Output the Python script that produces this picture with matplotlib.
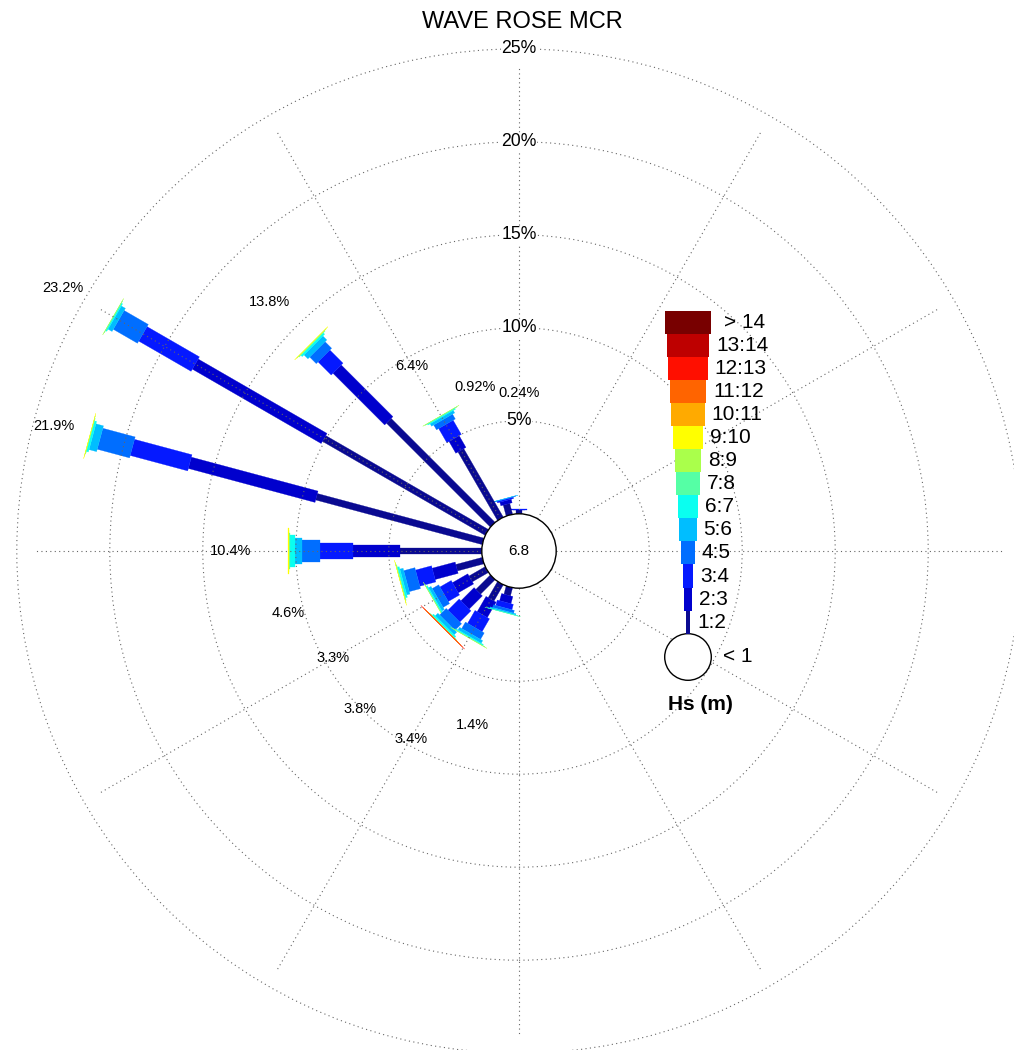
import numpy as np
import matplotlib
matplotlib.use("Agg")
import matplotlib.pyplot as plt
from matplotlib.patches import Polygon, Circle

plt.rcParams['font.family'] = ['Liberation Sans', 'DejaVu Sans']

# ---------------- data ----------------
title = "WAVE ROSE MCR"
hs_labels = ["1:2", "2:3", "3:4", "4:5", "5:6", "6:7", "7:8", "8:9",
             "9:10", "10:11", "11:12", "12:13", "13:14", "> 14"]
calm_label = "< 1"
calm_pct = 6.8           # Hs < 1 m, drawn as the central circle

# direction (deg, clockwise from north) and frequency (%) per Hs class
directions = [0, 345, 330, 315, 300, 285, 270, 255, 240, 225, 210, 195]
freq_000 = [0.18, 0.05, 0.01]
freq_345 = [0.60, 0.20, 0.08, 0.03, 0.01]
freq_330 = [4.25, 0.73, 0.88, 0.30, 0.15, 0.06, 0.02, 0.01]
freq_315 = [7.90, 3.93, 1.00, 0.50, 0.30, 0.10, 0.04, 0.02, 0.01]
freq_300 = [10.10, 8.00, 3.25, 1.50, 0.25, 0.07, 0.02, 0.01]
freq_285 = [9.27, 7.05, 3.20, 1.80, 0.42, 0.11, 0.03, 0.01, 0.01]
freq_270 = [4.40, 2.53, 1.77, 0.98, 0.36, 0.25, 0.07, 0.03, 0.01]
freq_255 = [1.47, 1.28, 0.89, 0.62, 0.18, 0.10, 0.04, 0.015, 0.005]
freq_240 = [1.00, 0.95, 0.70, 0.40, 0.15, 0.07, 0.02, 0.01]
freq_225 = [1.10, 1.00, 0.85, 0.50, 0.20, 0.09, 0.03, 0.015, 0.008, 0.004, 0.002, 0.001]
freq_210 = [1.00, 0.95, 0.80, 0.40, 0.16, 0.06, 0.02, 0.01]
freq_195 = [0.45, 0.40, 0.30, 0.15, 0.07, 0.02, 0.01]
frequencies = [freq_000, freq_345, freq_330, freq_315, freq_300, freq_285,
               freq_270, freq_255, freq_240, freq_225, freq_210, freq_195]

ring_levels = [5, 10, 15, 20, 25]

# ---------------- style ----------------
class_colors = np.array([
    (10, 10, 145), (0, 0, 205), (5, 25, 255), (0, 110, 255), (0, 190, 255),
    (10, 255, 240), (85, 255, 165), (170, 255, 75), (255, 255, 0),
    (255, 170, 0), (255, 100, 0), (255, 15, 0), (190, 0, 0), (120, 0, 0)
]) / 255.0

# direction label distance beyond the bar tip (in % units)
label_gap = [6.25, 6.2, 3.1, 3.15, 3.1, 2.0, 3.1, 6.25, 6.25, 6.25, 6.25, 6.3]

W, H = 1014, 1050
CX, CY = 519, 551          # rose centre in pixels (from top-left)
PX = 18.6                  # pixels per percent
R0 = 37.2 / PX             # radius of the calm circle
SPOKE_LEN = 24.0           # spokes stop short of the outer ring
GRID = dict(ls=(0, (1, 3)), lw=0.8)
GRID_COLOR = '0.4'

fig = plt.figure(figsize=(W / 100, H / 100), dpi=100)
ax = fig.add_axes([0, 0, 1, 1])
ax.set_xlim(-CX / PX, (W - CX) / PX)
ax.set_ylim(-(H - CY) / PX, CY / PX)
ax.axis('off')


def unit(deg):
    a = np.deg2rad(deg)
    return np.array([np.sin(a), np.cos(a)]), np.array([np.cos(a), -np.sin(a)])


def bar_width(i):
    return (6.7 + 5.0 * i) / PX


# stacked bars
for deg, freqs in zip(directions, frequencies):
    u, v = unit(deg)
    r = R0
    for i, f in enumerate(freqs):
        r1 = r + f
        hw = bar_width(i) / 2
        pts = [r * u + hw * v, r1 * u + hw * v, r1 * u - hw * v, r * u - hw * v]
        ax.add_patch(Polygon(pts, closed=True, facecolor=class_colors[i],
                             edgecolor=class_colors[i], lw=0.2, zorder=2))
        r = r1

# grid: rings and spokes
for lvl in ring_levels:
    ax.add_patch(Circle((0, 0), R0 + lvl, fill=False, ec=GRID_COLOR,
                        zorder=3, **GRID))
for deg in range(0, 360, 30):
    u, _ = unit(deg)
    r_end = R0 + SPOKE_LEN
    ax.plot([R0 * u[0], r_end * u[0]], [R0 * u[1], r_end * u[1]],
            color=GRID_COLOR, zorder=3, **GRID)

# calm circle
ax.add_patch(Circle((0, 0), R0, facecolor='white', edgecolor='black',
                    lw=1.0, zorder=4))
ax.text(0, 0, f"{calm_pct:.3g}", ha='center', va='center', fontsize=11,
        zorder=6)

# ring labels
for lvl in ring_levels:
    ax.text(0, R0 + lvl, f"{lvl}%", ha='center', va='center', fontsize=12.7,
            zorder=5, bbox=dict(facecolor='white', edgecolor='none', pad=0.5))

# direction totals
for deg, freqs, gap in zip(directions, frequencies, label_gap):
    total = round(sum(freqs), 4)
    u, _ = unit(deg)
    p = (R0 + total + gap) * u
    ax.text(p[0], p[1], f"{total:.3g}%", ha='center', va='center',
            fontsize=10.5, zorder=6)

# legend
LX = (688 - CX) / PX
LY = (CY - 657) / PX
LR = 23.3 / PX
LH = 23.07 / PX
ax.add_patch(Circle((LX, LY), LR, facecolor='white', edgecolor='black',
                    lw=1.0, zorder=4))
ax.text(LX + LR + 12 / PX, LY, calm_label, ha='left', va='center',
        fontsize=15, zorder=6)
y0 = LY + LR
for i, (lab, col) in enumerate(zip(hs_labels, class_colors)):
    hw = (4.5 + 3.2 * i) / PX / 2
    yb = y0 + i * LH
    ax.add_patch(Polygon([(LX - hw, yb), (LX + hw, yb), (LX + hw, yb + LH),
                          (LX - hw, yb + LH)], closed=True, facecolor=col,
                         edgecolor='none', zorder=4))
    pad = 13 if lab.startswith('>') else 6.7
    ax.text(LX + hw + pad / PX, yb + LH / 2, lab, ha='left', va='center',
            fontsize=15, zorder=6)
ax.text((700 - CX) / PX, (CY - 705) / PX, "Hs (m)", ha='center', va='center',
        fontsize=15, fontweight='bold', zorder=6)

fig.text(522 / W, 1 - 22 / H, title, ha='center', va='center', fontsize=17)

fig.savefig("out.png", dpi=100)
